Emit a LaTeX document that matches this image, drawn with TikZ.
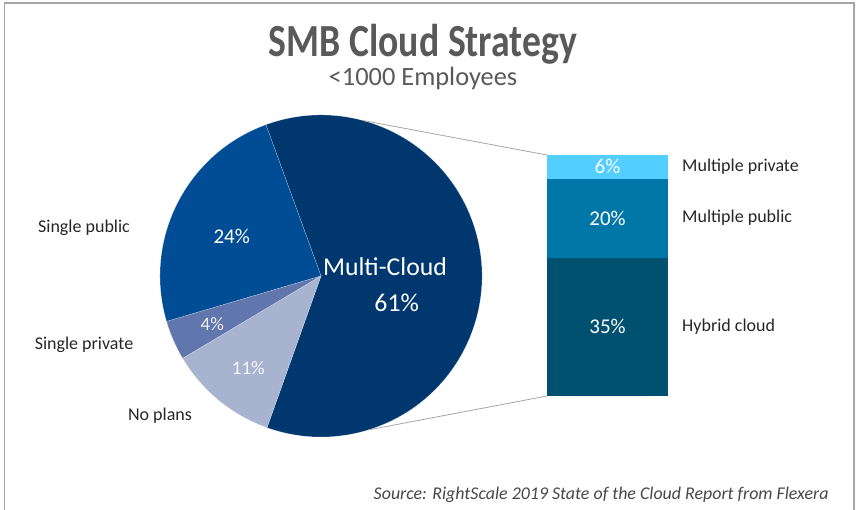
\documentclass[tikz,border=0pt]{standalone}
\usepackage{fontspec}
\setmainfont{Carlito}
\usepackage{graphicx}
\usepackage{xcolor}
\usetikzlibrary{positioning}

\definecolor{multic}{HTML}{00376F}
\definecolor{spubc}{HTML}{004C95}
\definecolor{sprivc}{HTML}{6176AD}
\definecolor{noplc}{HTML}{A8B3CF}
\definecolor{mprivc}{HTML}{52CEFF}
\definecolor{mpubc}{HTML}{0077A7}
\definecolor{hybc}{HTML}{00506F}
\definecolor{titlec}{HTML}{595959}
\definecolor{labc}{HTML}{262626}
\definecolor{framec}{HTML}{A6A6A6}

\begin{document}
\begin{tikzpicture}[x=1pt, y=1pt,
		lab/.style = {text=labc, inner sep=0pt, font=\fontsize{18}{20}\selectfont},
		pct/.style = {text=white, inner sep=0pt, font=\fontsize{21}{23}\selectfont},
		seg/.style = {minimum width=121pt, inner sep=0pt, outer sep=0pt, text=white, font=\fontsize{21}{23}\selectfont},
		slice/.style = {draw=white, draw opacity=0.35, line width=0.5pt}]
	\useasboundingbox (0,0) rectangle (859,-510);
	\draw[framec, line width=1.5pt] (4.5,-510) -- (4.5,-3) -- (854,-3) -- (854,-510);
	
	\node (title) [anchor=base, text=titlec, font=\fontsize{46}{48}\selectfont\bfseries] at (423,-57) {\scalebox{0.82}[1]{SMB Cloud Strategy}};
	\node (sub) [anchor=base, text=titlec, font=\fontsize{26.4}{28}\selectfont] at (423,-86) {<1000 Employees};
	
	\begin{scope}[shift={(321,-276)}]
		\path[shape=coordinate]
		(0,0) coordinate(O)
		(75:161pt) coordinate(T)
		(-73:161pt) coordinate(B);
		
		\path[fill=multic, slice] (O) -- (110:161pt) arc[start angle=110, end angle=-109.6, radius=161pt] -- cycle;
		\path[fill=spubc, slice] (O) -- (110:161pt) arc[start angle=110, end angle=196.4, radius=161pt] -- cycle;
		\path[fill=sprivc, slice] (O) -- (196.4:161pt) arc[start angle=196.4, end angle=210.8, radius=161pt] -- cycle;
		\path[fill=noplc, slice] (O) -- (210.8:161pt) arc[start angle=210.8, end angle=250.4, radius=161pt] -- cycle;
	\end{scope}
	
	\node[pct] (p24) at (231.7,-236.7) {24\%};
	\node[pct, text=white!88!sprivc, font=\fontsize{19}{21}\selectfont] (p4) at (212.3,-324.3) {4\%};
	\node[pct, text=white!92!noplc, font=\fontsize{19}{21}\selectfont] (p11) at (248.3,-367.7) {11\%};
	\node[pct, font=\fontsize{25.7}{28}\selectfont] (mc) at (385,-266.7) {Multi-Cloud};
	\node[pct, font=\fontsize{25.7}{28}\selectfont] (p61) at (396.7,-302.7) {61\%};
	
	\node[lab] (spub) at (84,-228) {Single public};
	\node[lab] (spriv) at (84,-345) {Single private};
	\node[lab] (nopl) at (160,-416) {No plans};
	
	\node[seg, fill=mprivc, minimum height=23.7pt, anchor=north west] (mpriv) at (547,-155) {6\%};
	\node[seg, fill=mpubc, minimum height=79pt, below=0pt of mpriv] (mpub) {20\%};
	\node[seg, fill=hybc, minimum height=138.3pt, below=0pt of mpub] (hyb) {35\%};
	
	\node[lab, right=14pt of mpriv] (lmpriv) {Multiple private};
	\node[lab, right=14pt of mpub] (lmpub) {Multiple public};
	\node[lab, right=14pt of hyb] (lhyb) {Hybrid cloud};
	
	\draw[framec, line width=0.8pt] (T) -- (mpriv.north west);
	\draw[framec, line width=0.8pt] (B) -- (hyb.south west);
	
	\node (src) [anchor=base east, text=labc!85!white, font=\fontsize{17.9}{20}\selectfont\itshape] at (832,-499) {Source: RightScale 2019 State of the Cloud Report from Flexera};
\end{tikzpicture}
\end{document}
